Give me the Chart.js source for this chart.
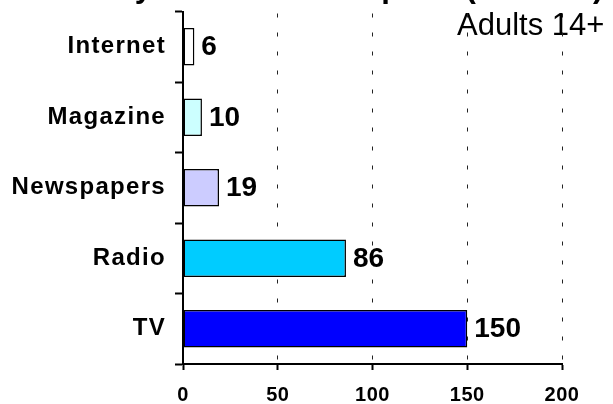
<!DOCTYPE html>
<html>
<head>
<meta charset="utf-8">
<script src="https://cdn.jsdelivr.net/npm/chart.js@4/dist/chart.umd.min.js"></script>
<style>
	html, body { margin: 0; padding: 0; background: #fff; }
	#media-chart { display: block; }
</style>
</head>
<body>
<canvas id="media-chart" width="613" height="404"></canvas>
<script>
const titleText = 'Daily Media Consumption (Minutes)';
const subtitleText = 'Adults 14+';
const categories = ['Internet', 'Magazine', 'Newspapers', 'Radio', 'TV'];
const minutes = [6, 10, 19, 86, 150];
const barColors = ['#ffffff', '#ccffff', '#ccccff', '#00ccff', '#0000ff'];
const xTicks = [0, 50, 100, 150, 200];

const fontFamily = '"Liberation Sans", Arial, sans-serif';

// title, subtitle and the value next to each bar
const textPlugin = {
	id: 'mediaText',
	beforeDraw(chart) {
		const ctx = chart.ctx;
		ctx.save();
		ctx.letterSpacing = '0px';
		ctx.fillStyle = '#000';
		ctx.textAlign = 'left';
		ctx.textBaseline = 'alphabetic';
		ctx.font = `bold 31px ${fontFamily}`;
		ctx.fillText(titleText, 78, -3);
		ctx.font = `31px ${fontFamily}`;
		ctx.fillText(subtitleText, 457, 35);
		ctx.restore();
		ctx.letterSpacing = '0.5px';
	},
	afterDatasetsDraw(chart) {
		const ctx = chart.ctx;
		const meta = chart.getDatasetMeta(0);
		ctx.save();
		ctx.letterSpacing = '0px';
		ctx.fillStyle = '#000';
		ctx.font = `bold 28px ${fontFamily}`;
		ctx.textAlign = 'left';
		ctx.textBaseline = 'middle';
		meta.data.forEach((bar, i) => {
			ctx.fillText(String(minutes[i]), bar.x + 7, bar.y + 1);
		});
		ctx.restore();
		// category labels are drawn after this (ticks z: 1), spaced out
		ctx.letterSpacing = '1.3px';
	},
	afterDraw(chart) {
		chart.ctx.letterSpacing = '0px';
	},
};

new Chart(document.getElementById('media-chart'), {
	type: 'bar',
	data: {
		labels: categories,
		datasets: [
			{
				data: minutes,
				backgroundColor: barColors,
				borderColor: '#000',
				borderWidth: 1.5,
				borderSkipped: false,
				barPercentage: 0.53,
				categoryPercentage: 1,
			},
		],
	},
	options: {
		indexAxis: 'y',
		responsive: false,
		animation: false,
		devicePixelRatio: 1,
		layout: {
			padding: { top: 11.5, right: 51, left: 0, bottom: 0 },
		},
		plugins: {
			legend: { display: false },
			tooltip: { enabled: false },
		},
		scales: {
			x: {
				min: xTicks[0],
				max: xTicks[xTicks.length - 1],
				afterBuildTicks(scale) {
					scale.ticks = xTicks.map((v) => ({ value: v }));
				},
				afterFit(scale) {
					scale.height = 40;
				},
				grid: {
					color: '#222',
					lineWidth: 1,
					tickLength: 6,
					tickWidth: 2,
					tickColor: '#000',
					tickBorderDash: [],
				},
				border: {
					display: true,
					color: '#000',
					width: 2,
					dash: [4, 15],
					dashOffset: -2,
				},
				ticks: {
					color: '#000',
					padding: 13,
					font: { family: fontFamily, size: 20, weight: 'bold' },
				},
			},
			y: {
				afterFit(scale) {
					scale.width = 183;
					scale.paddingTop = 0;
					scale.paddingBottom = 0;
				},
				grid: {
					offset: true,
					drawOnChartArea: false,
					tickLength: 8,
					tickWidth: 2,
					tickColor: '#000',
				},
				border: {
					display: true,
					color: '#000',
					width: 2,
				},
				ticks: {
					z: 1,
					color: '#000',
					padding: 9,
					font: { family: fontFamily, size: 24, weight: 'bold' },
				},
			},
		},
	},
	plugins: [textPlugin],
});
</script>
</body>
</html>
